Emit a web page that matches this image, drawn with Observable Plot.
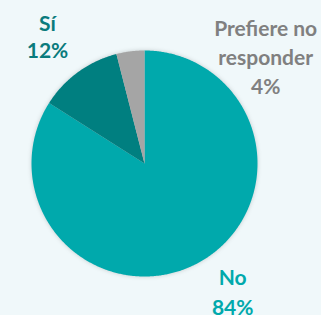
<!DOCTYPE html>
<html>
<head>
<meta charset="utf-8">
<script src="https://cdn.jsdelivr.net/npm/d3@7"></script>
<script src="https://cdn.jsdelivr.net/npm/@observablehq/plot@0.6"></script>
<style>
  html, body { margin: 0; padding: 0; background: #f0f8fa; overflow: hidden; }
  #chart svg { display: block; }
  #chart g[aria-label="geo"] { filter: drop-shadow(0 0 2px rgba(0,0,0,0.18)); }
</style>
</head>
<body>
<div id="chart"></div>
<script>
// Data
const categories = ["No", "Sí", "Prefiere no responder"];
const values = [84, 12, 4];
const labels = ["No\n84%", "Sí\n12%", "Prefiere no\nresponder\n4%"];
const colors = ["#00a9ac", "#007f80", "#a5a5a5"];
const textColors = ["#00a9ac", "#0a7b7d", "#808080"];

// Label layout (offsets in px from radial anchor, line height in em)
const labelRadius = 1.4;
const labelOffsets = {"No": [12, -12, 1.42], "Sí": [-4, 0, 1.32], "Prefiere no responder": [141, 49, 1.4]};

const pie = d3.pie().sort(null).value(d => d.value)(
  categories.map((c, i) => ({category: c, value: values[i], label: labels[i], color: colors[i], textColor: textColors[i]}))
);

const pt = (a, r) => [r * Math.sin(a), -r * Math.cos(a)];
const slices = pie.map(p => {
  const ring = [[0, 0]];
  const n = Math.max(2, Math.ceil((p.endAngle - p.startAngle) / (Math.PI / 360)));
  for (let k = 0; k <= n; k++) ring.push(pt(p.startAngle + (p.endAngle - p.startAngle) * k / n, 1));
  ring.push([0, 0]);
  return {type: "Feature", properties: p.data, geometry: {type: "Polygon", coordinates: [ring]}};
});

const labelData = pie.map(p => {
  const m = (p.startAngle + p.endAngle) / 2;
  const [x, y] = pt(m, labelRadius);
  const off = labelOffsets[p.data.category];
  return {...p.data, x, y, dx: off[0], dy: off[1], lh: off[2]};
});

const chart = Plot.plot({
  width: 321,
  height: 315,
  marginLeft: 31,
  marginRight: 64,
  marginTop: 50,
  marginBottom: 39,
  style: {background: "#f0f8fa", overflow: "visible"},
  projection: {type: "identity", clip: false, domain: {type: "MultiPoint", coordinates: [[-1, -1], [1, 1]]}},
  marks: [
    Plot.geo(slices, {fill: d => d.properties.color, stroke: "none"}),
    ...labelData.map(d => Plot.text([d], {
      x: "x", y: "y", text: "label", dx: d.dx, dy: d.dy,
      fill: d.textColor, fontSize: 21, fontWeight: "bold",
      fontFamily: "Lato, 'Open Sans', sans-serif",
      lineHeight: d.lh, lineAnchor: "middle", textAnchor: "middle"
    }))
  ]
});
document.getElementById("chart").appendChild(chart);
</script>
</body>
</html>
